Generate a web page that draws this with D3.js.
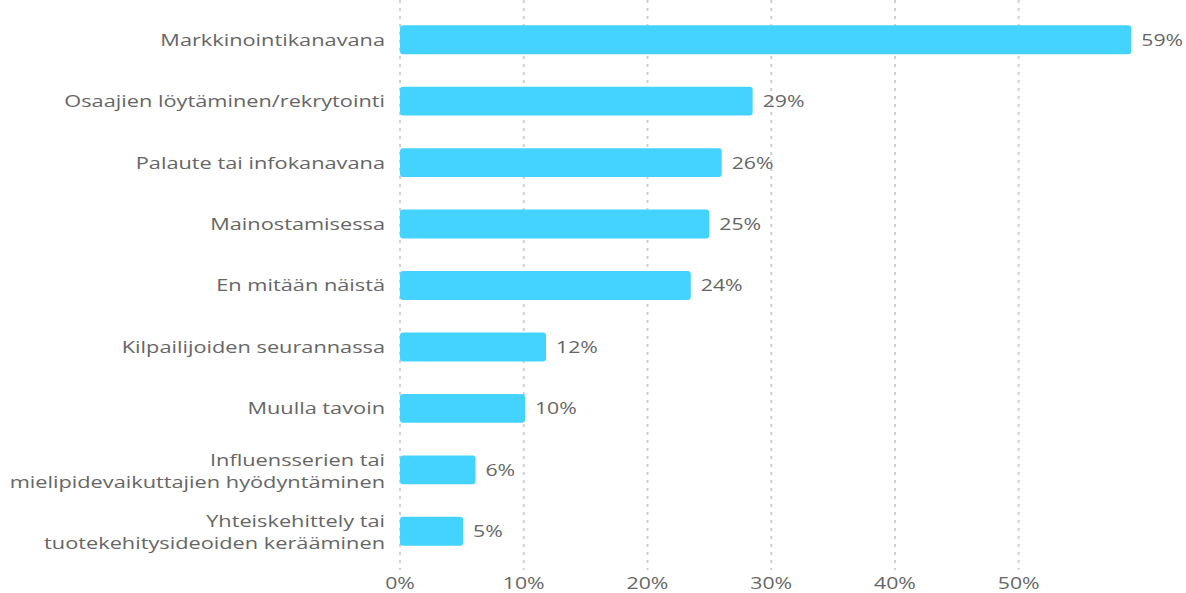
<!DOCTYPE html>
<html>
<head>
<meta charset="utf-8">
<script src="https://cdn.jsdelivr.net/npm/d3@7"></script>
<style>
  body { margin: 0; background: #fff; }
  text { font-family: "Open Sans", sans-serif; fill: #666; }
</style>
</head>
<body>
<div id="chart"></div>
<script>
// categories (lines split where the label wraps)
var categories = [
  ["Markkinointikanavana"],
  ["Osaajien löytäminen/rekrytointi"],
  ["Palaute tai infokanavana"],
  ["Mainostamisessa"],
  ["En mitään näistä"],
  ["Kilpailijoiden seurannassa"],
  ["Muulla tavoin"],
  ["Influensserien tai", "mielipidevaikuttajien hyödyntäminen"],
  ["Yhteiskehittely tai", "tuotekehitysideoiden kerääminen"]
];
var values = [59.1, 28.5, 26.0, 25.0, 23.5, 11.8, 10.1, 6.1, 5.1];
var tickValues = [0, 10, 20, 30, 40, 50];

var W = 1186, H = 593;
var stretch = 1.25;    // text in the original is drawn horizontally wide
var catStretch = 1.28;
var svg = d3.select('#chart').append('svg')
  .attr('width', W).attr('height', H);

var x = d3.scaleLinear().domain([0, 60]).range([400, 1142.4]);
var y = d3.scaleBand()
  .domain(d3.range(categories.length))
  .range([9, 562])
  .paddingInner(0.53)
  .paddingOuter(0.265);

// grid lines
svg.append('g').selectAll('line')
  .data(tickValues)
  .enter().append('line')
  .attr('x1', d => x(d)).attr('x2', d => x(d))
  .attr('y1', 0).attr('y2', 570)
  .attr('stroke', '#d0d0d0')
  .attr('stroke-width', 2)
  .attr('stroke-dasharray', '3,5');

// tick labels
svg.append('g').selectAll('text')
  .data(tickValues)
  .enter().append('text')
  .attr('transform', d => 'translate(' + x(d) + ',589) scale(' + stretch + ',1)')
  .attr('text-anchor', 'middle')
  .attr('font-size', 17)
  .text(d => d + '%');

// bars
svg.append('g').selectAll('rect')
  .data(values)
  .enter().append('rect')
  .attr('x', x(0))
  .attr('y', (d, i) => y(i))
  .attr('width', d => x(d) - x(0))
  .attr('height', y.bandwidth())
  .attr('rx', 3)
  .attr('fill', '#43d3fe');

// value labels
svg.append('g').selectAll('text')
  .data(values)
  .enter().append('text')
  .attr('transform', (d, i) => 'translate(' + (x(d) + 10) + ',' + (y(i) + y.bandwidth() / 2) + ') scale(' + stretch + ',1)')
  .attr('dy', '0.35em')
  .attr('font-size', 17)
  .text(d => Math.round(d) + '%');

// category labels
var lab = svg.append('g').selectAll('text')
  .data(categories)
  .enter().append('text')
  .attr('text-anchor', 'end')
  .attr('font-size', 17)
  .attr('transform', (d, i) => 'translate(385,' + (y(i) + y.bandwidth() / 2 + (d.length > 1 ? 1 : 0)) + ') scale(' + catStretch + ',1)');

lab.selectAll('tspan')
  .data(d => d.map((t, k) => ({ t: t, k: k, n: d.length })))
  .enter().append('tspan')
  .attr('x', 0)
  .attr('dy', d => d.k === 0 ? (0.35 - (d.n - 1) * 0.65) + 'em' : '1.3em')
  .text(d => d.t);
</script>
</body>
</html>
